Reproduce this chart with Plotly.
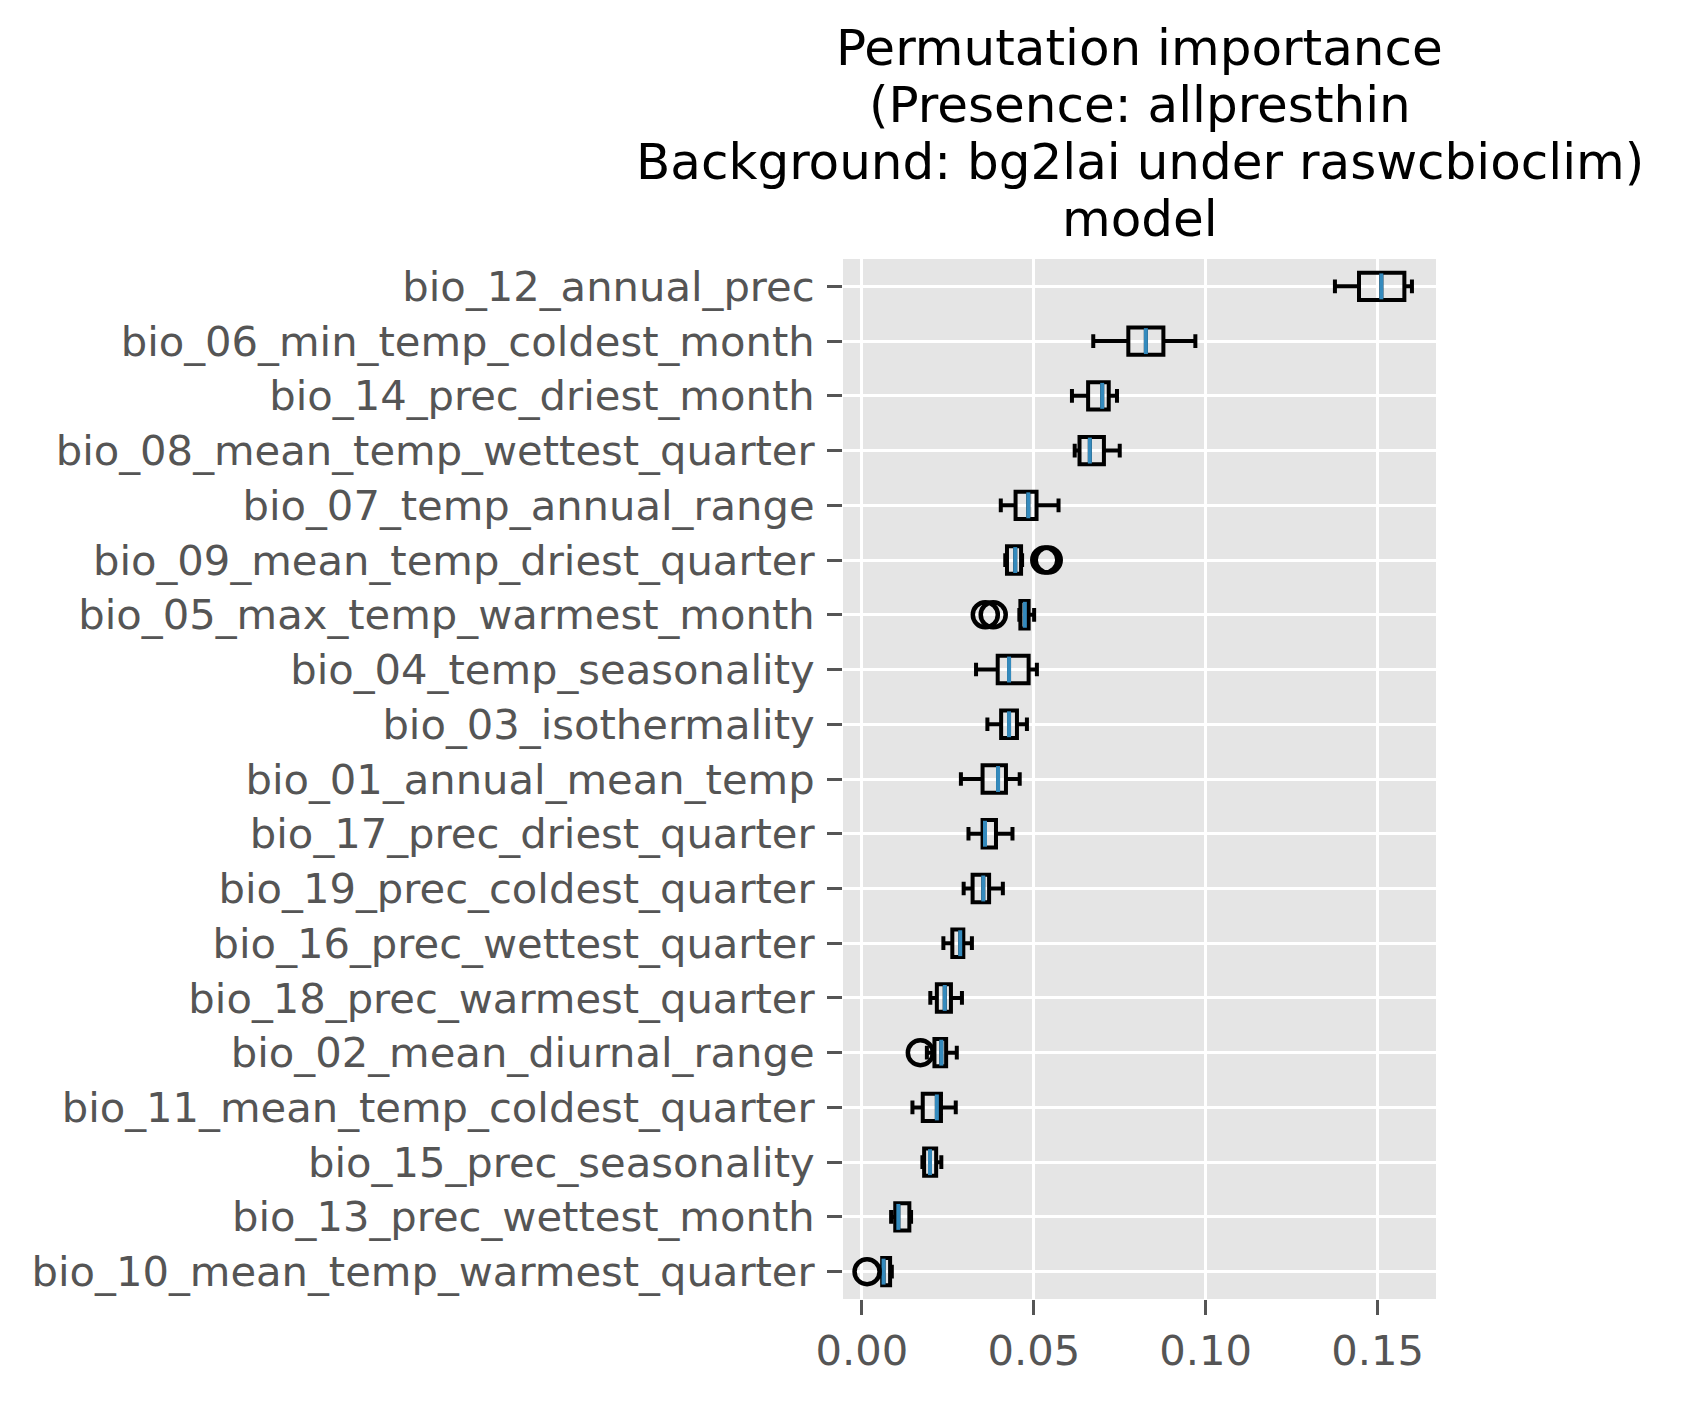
import plotly.graph_objects as go

features = ["bio_12_annual_prec", "bio_06_min_temp_coldest_month", "bio_14_prec_driest_month",
            "bio_08_mean_temp_wettest_quarter", "bio_07_temp_annual_range", "bio_09_mean_temp_driest_quarter",
            "bio_05_max_temp_warmest_month", "bio_04_temp_seasonality", "bio_03_isothermality",
            "bio_01_annual_mean_temp", "bio_17_prec_driest_quarter", "bio_19_prec_coldest_quarter",
            "bio_16_prec_wettest_quarter", "bio_18_prec_warmest_quarter", "bio_02_mean_diurnal_range",
            "bio_11_mean_temp_coldest_quarter", "bio_15_prec_seasonality", "bio_13_prec_wettest_month",
            "bio_10_mean_temp_warmest_quarter"]

lower = [0.1376, 0.0673, 0.0611, 0.0619, 0.0404, 0.0417, 0.0458, 0.0332, 0.0365, 0.0288,
         0.0310, 0.0296, 0.0237, 0.0199, 0.0189, 0.0147, 0.0176, 0.0085, 0.0058]
q1 = [0.1446, 0.0775, 0.0658, 0.0633, 0.0447, 0.0422, 0.0461, 0.0395, 0.0405, 0.0351,
      0.0351, 0.0322, 0.0263, 0.0218, 0.0211, 0.0177, 0.0181, 0.0097, 0.0059]
median = [0.1511, 0.0826, 0.0699, 0.0663, 0.0484, 0.0446, 0.0474, 0.0428, 0.0428, 0.0396,
          0.0358, 0.0353, 0.0286, 0.0241, 0.0231, 0.0218, 0.0198, 0.0106, 0.0063]
q3 = [0.1578, 0.0877, 0.0718, 0.0704, 0.0508, 0.0463, 0.0485, 0.0485, 0.0451, 0.0419,
      0.0390, 0.0370, 0.0295, 0.0259, 0.0245, 0.0230, 0.0216, 0.0138, 0.0082]
upper = [0.1600, 0.0970, 0.0742, 0.0750, 0.0572, 0.0466, 0.0501, 0.0509, 0.0480, 0.0459,
         0.0438, 0.0410, 0.0320, 0.0291, 0.0276, 0.0273, 0.0231, 0.0143, 0.0087]

outlier_feature = ["bio_09_mean_temp_driest_quarter", "bio_09_mean_temp_driest_quarter",
                   "bio_05_max_temp_warmest_month", "bio_05_max_temp_warmest_month",
                   "bio_02_mean_diurnal_range", "bio_10_mean_temp_warmest_quarter"]
outlier_value = [0.0532, 0.0542, 0.0359, 0.0382, 0.0170, 0.0015]

title_lines = ["Permutation importance", "(Presence: allpresthin",
               "Background: bg2lai under raswcbioclim)", "model"]

fig = go.Figure()

# boxes from precomputed stats (black outline, no fill)
fig.add_trace(go.Box(y=features, q1=q1, median=median, q3=q3,
                     lowerfence=lower, upperfence=upper,
                     orientation="h", boxpoints=False, width=0.5, whiskerwidth=0.5,
                     line=dict(color="black", width=4), fillcolor="rgba(0,0,0,0)",
                     showlegend=False, hoverinfo="skip"))

# blue median lines on top
fig.add_trace(go.Scatter(x=median, y=features, mode="markers", showlegend=False,
                         marker=dict(symbol="line-ns", size=18.5,
                                     line=dict(color="#348ABD", width=4))))

# fliers
fig.add_trace(go.Scatter(x=outlier_value, y=outlier_feature, mode="markers", showlegend=False,
                         marker=dict(symbol="circle-open", size=25, color="black",
                                     line=dict(color="black", width=4.5))))

# title, one annotation per line to get matplotlib-like line spacing
for i, line in enumerate(title_lines):
    fig.add_annotation(text=line, xref="paper", yref="paper", x=0.5, xanchor="center",
                       y=(1291 - (40 + 57 * i)) / 1040, yanchor="middle", showarrow=False,
                       font=dict(family="DejaVu Sans", size=50, color="black"))

tick_font = dict(family="DejaVu Sans", size=41.7, color="#555555")

# page body has an 8px margin, so the figure is a bit smaller than the window
fig.update_layout(
    width=1666, height=1385,
    margin=dict(l=835, r=238, t=251, b=94),
    paper_bgcolor="white", plot_bgcolor="#E5E5E5",
    xaxis=dict(range=[-0.0055, 0.1670], tickvals=[0, 0.05, 0.10, 0.15], tickformat=".2f",
               showgrid=True, gridcolor="white", gridwidth=3, zeroline=False,
               ticks="outside", ticklen=15, tickwidth=3, tickcolor="#555555",
               ticklabelstandoff=0, tickfont=tick_font, showline=False, automargin=False),
    yaxis=dict(type="category", categoryorder="array", categoryarray=features,
               range=[18.5, -0.5],
               showgrid=True, gridcolor="white", gridwidth=3, zeroline=False,
               ticks="outside", ticklen=15, tickwidth=3, tickcolor="#555555",
               ticklabelstandoff=4, tickfont=tick_font, showline=False, automargin=False),
)

fig.write_html("out.html")
